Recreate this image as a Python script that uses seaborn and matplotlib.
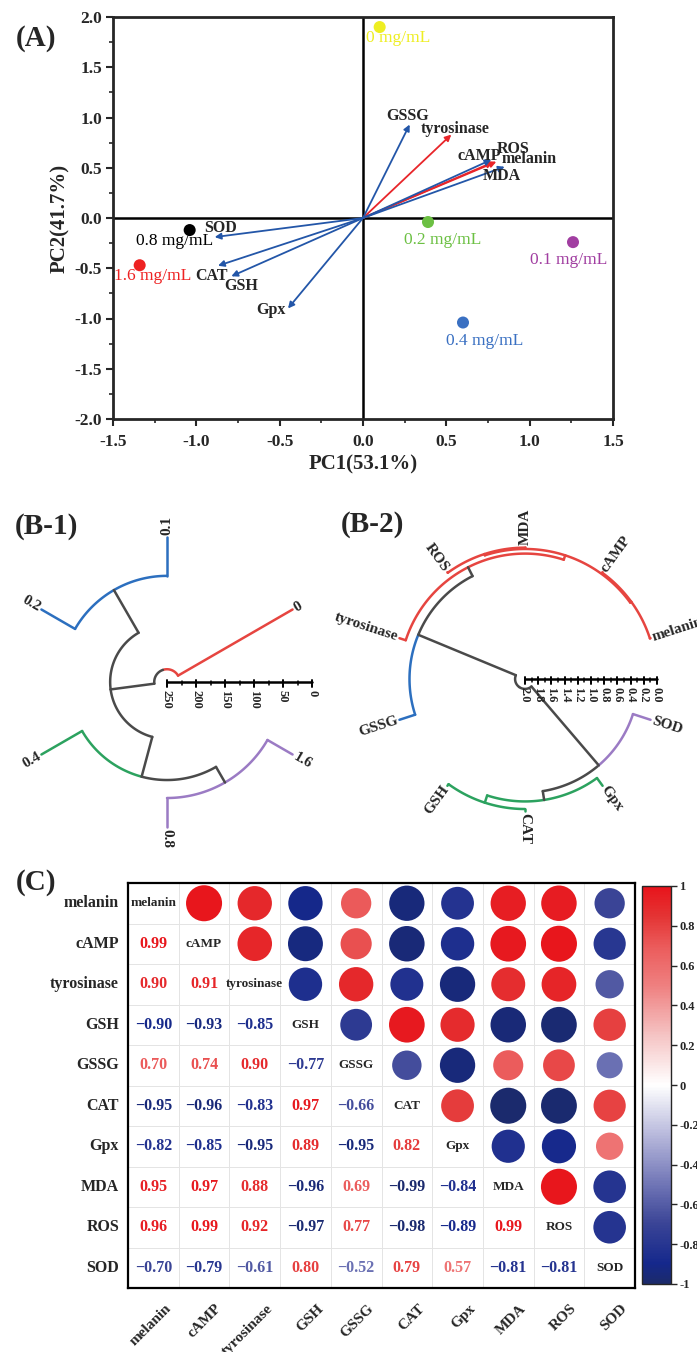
import numpy as np
import matplotlib
matplotlib.use("Agg")
import matplotlib.pyplot as plt
import matplotlib.transforms as mtransforms
from matplotlib.colors import LinearSegmentedColormap, ListedColormap
from matplotlib.ticker import MultipleLocator
import seaborn as sns

# ---------------- data ----------------
# (A) PCA scores of the treatment groups
groups = ["0 mg/mL", "0.1 mg/mL", "0.2 mg/mL", "0.4 mg/mL", "0.8 mg/mL", "1.6 mg/mL"]
pc1_scores = [0.10, 1.26, 0.39, 0.60, -1.04, -1.34]
pc2_scores = [1.90, -0.24, -0.04, -1.04, -0.12, -0.47]
group_colors = ["#eeee22", "#a13ea1", "#6cc043", "#3a70c2", "#000000", "#ee2222"]

# (A) loadings of the variables
variables = ["melanin", "cAMP", "tyrosinase", "GSH", "GSSG", "CAT", "Gpx", "MDA", "ROS", "SOD"]
load_pc1 = [0.80, 0.78, 0.53, -0.79, 0.28, -0.87, -0.45, 0.85, 0.77, -0.89]
load_pc2 = [0.56, 0.555, 0.83, -0.58, 0.93, -0.475, -0.90, 0.51, 0.58, -0.19]
arrow_colors = ["#e8252a", "#e8252a", "#e8252a", "#2356a8", "#2356a8",
                "#2356a8", "#2356a8", "#2356a8", "#2356a8", "#2356a8"]

# (B-1) clustering of the doses
b1_leaves = ["0", "0.1", "0.2", "0.4", "0.8", "1.6"]
b1_groups = [0, 1, 1, 2, 3, 3]
b1_merges = [("0.8", "1.6", 50), ("0.1", "0.2", 67), ("0.4", "m1", 81),
             ("m2", "m3", 152), ("0", "m4", 228)]

# (B-2) clustering of the variables
b2_leaves = ["melanin", "cAMP", "MDA", "ROS", "tyrosinase", "GSSG", "GSH", "CAT", "Gpx", "SOD"]
b2_groups = [0, 0, 0, 0, 0, 1, 2, 2, 2, 3]
b2_merges = [("melanin", "cAMP", 0.01), ("MDA", "ROS", 0.01), ("m1", "m2", 0.03),
             ("m3", "tyrosinase", 0.10), ("m4", "GSSG", 0.25), ("GSH", "CAT", 0.03),
             ("m6", "Gpx", 0.145), ("m7", "SOD", 0.28), ("m5", "m8", 1.85)]

# (C) correlation matrix, lower triangle
corr_lower = [
    [],
    [0.99],
    [0.90, 0.91],
    [-0.90, -0.93, -0.85],
    [0.70, 0.74, 0.90, -0.77],
    [-0.95, -0.96, -0.83, 0.97, -0.66],
    [-0.82, -0.85, -0.95, 0.89, -0.95, 0.82],
    [0.95, 0.97, 0.88, -0.96, 0.69, -0.99, -0.84],
    [0.96, 0.99, 0.92, -0.97, 0.77, -0.98, -0.89, 0.99],
    [-0.70, -0.79, -0.61, 0.80, -0.52, 0.79, 0.57, -0.81, -0.81],
]

# ---------------- style ----------------
sns.set_style("ticks")
plt.rcParams["font.family"] = ["Liberation Serif", "DejaVu Serif"]
plt.rcParams["axes.unicode_minus"] = False

W, H = 697, 1352
fig = plt.figure(figsize=(W / 100, H / 100), dpi=100)


def px_axes(left, top, right, bottom):
    return fig.add_axes([left / W, 1 - bottom / H, (right - left) / W, (bottom - top) / H])


# ================= (A) PCA biplot =================
ax = px_axes(113, 17, 613, 419)
ax.axhline(0, color="k", lw=1.8, zorder=1)
ax.axvline(0, color="k", lw=1.8, zorder=1)
for x, y, c in zip(load_pc1, load_pc2, arrow_colors):
    ax.annotate("", xy=(x, y), xytext=(0, 0),
                arrowprops=dict(arrowstyle="-|>", color=c, lw=1.3,
                                mutation_scale=9, shrinkA=0, shrinkB=0), zorder=3)
sns.scatterplot(x=pc1_scores, y=pc2_scores, hue=groups, palette=group_colors,
                s=75, edgecolor="none", legend=False, ax=ax, zorder=4)

# label placement (layout only)
group_label_xy = {"0 mg/mL": (0.21, 1.79), "0.1 mg/mL": (1.235, -0.42), "0.2 mg/mL": (0.475, -0.215),
                  "0.4 mg/mL": (0.73, -1.22), "0.8 mg/mL": (-1.13, -0.23), "1.6 mg/mL": (-1.26, -0.58)}
for g, c in zip(groups, group_colors):
    gx, gy = group_label_xy[g]
    ax.text(gx, gy, g, color=c, fontsize=12.5, ha="center", va="center")
var_label_xy = {"melanin": (0.995, 0.59), "cAMP": (0.70, 0.62), "tyrosinase": (0.555, 0.887),
                "GSH": (-0.73, -0.675), "GSSG": (0.27, 1.01), "CAT": (-0.91, -0.575),
                "Gpx": (-0.55, -0.92), "MDA": (0.83, 0.415), "ROS": (0.90, 0.69), "SOD": (-0.853, -0.10)}
for v in variables:
    vx, vy = var_label_xy[v]
    ax.text(vx, vy, v, fontsize=11.5, fontweight="bold", ha="center", va="center")

ax.set_xlim(-1.5, 1.5)
ax.set_ylim(-2, 2)
ax.set_xticks(np.arange(-1.5, 1.51, 0.5))
ax.set_yticks(np.arange(-2, 2.01, 0.5))
ax.xaxis.set_minor_locator(MultipleLocator(0.25))
ax.yaxis.set_minor_locator(MultipleLocator(0.25))
ax.set_xticklabels([f"{t:.1f}" for t in np.arange(-1.5, 1.51, 0.5)])
ax.set_yticklabels([f"{t:.1f}" for t in np.arange(-2, 2.01, 0.5)])
ax.tick_params(which="major", direction="out", length=5, width=1.5, labelsize=12.5, pad=3)
ax.tick_params(axis="x", which="major", pad=6)
ax.tick_params(which="minor", direction="out", length=3, width=1.2)
for lbl in ax.get_xticklabels() + ax.get_yticklabels():
    lbl.set_fontweight("bold")
for s in ax.spines.values():
    s.set_linewidth(2)
ax.set_xlabel("PC1(53.1%)", fontsize=15, fontweight="bold", labelpad=3)
ax.set_ylabel("PC2(41.7%)", fontsize=15, fontweight="bold", labelpad=3)

# ================= (B) circular dendrograms =================
tree_colors = ["#e64540", "#2c6fbf", "#2ca25f", "#9b7bc4"]
tree_gray = "#4a4a4a"


def circular_dendrogram(ax, leaves, grp, merges, Hmax, start, px_per_unit,
                        ticks, minor, tick_fmt):
    n = len(leaves)
    ang, rad, mem = {}, {}, {}
    for k, name in enumerate(leaves):
        ang[name] = start + k * 360 / n
        rad[name] = Hmax
        mem[name] = {grp[k]}
    for i, (a, b, h) in enumerate(merges, 1):
        node = f"m{i}"
        ang[node] = (ang[a] + ang[b]) / 2
        rad[node] = Hmax - h
        mem[node] = mem[a] | mem[b]
        for c in (a, b):
            if c in leaves:
                col = tree_colors[grp[leaves.index(c)]]
            elif len(mem[node]) == 1:
                col = tree_colors[next(iter(mem[node]))]
            else:
                col = tree_gray
            t = np.radians(ang[c])
            ax.plot([rad[c] * np.cos(t), rad[node] * np.cos(t)],
                    [rad[c] * np.sin(t), rad[node] * np.sin(t)],
                    color=col, lw=1.8, solid_capstyle="round")
            arc = np.radians(np.linspace(ang[c], ang[node], 80))
            ax.plot(rad[node] * np.cos(arc), rad[node] * np.sin(arc),
                    color=col, lw=1.8, solid_capstyle="round")
    # leaf labels
    pad = 2 / px_per_unit
    for name in leaves:
        a = ang[name] % 360
        t = np.radians(a)
        if 90 < a < 270:
            rot, ha = a - 180, "right"
        else:
            rot, ha = a, "left"
        ax.text((Hmax + pad) * np.cos(t), (Hmax + pad) * np.sin(t), name,
                rotation=rot, ha=ha, va="center", rotation_mode="anchor",
                fontsize=11, fontweight="bold")
    # height scale
    u = 1 / px_per_unit
    ax.plot([0, Hmax], [0, 0], color="k", lw=1.8)
    for v in ticks:
        ax.plot([Hmax - v] * 2, [2 * u, -5 * u], color="k", lw=1.4)
        ax.text(Hmax - v, -8 * u, tick_fmt(v), rotation=-90, ha="center", va="top",
                fontsize=9, fontweight="bold")
    for v in minor:
        ax.plot([Hmax - v] * 2, [1 * u, -3 * u], color="k", lw=1.1)
    ax.axis("off")


# B-1: centre at (167, 682) px, leaf radius 145 px
k1 = 145 / 250
ax_b1 = px_axes(0, 490, 345, 860)
ax_b1.set_xlim((0 - 167) / k1, (345 - 167) / k1)
ax_b1.set_ylim(-(860 - 682) / k1, (682 - 490) / k1)
circular_dendrogram(ax_b1, b1_leaves, b1_groups, b1_merges, 250, 30, k1,
                    np.arange(0, 251, 50), np.arange(25, 250, 50), lambda v: f"{v:g}")

# B-2: centre at (525, 679) px, leaf radius 132 px
k2 = 132 / 2.0
ax_b2 = px_axes(345, 490, 697, 860)
ax_b2.set_xlim((345 - 525) / k2, (697 - 525) / k2)
ax_b2.set_ylim(-(860 - 679) / k2, (679 - 490) / k2)
circular_dendrogram(ax_b2, b2_leaves, b2_groups, b2_merges, 2.0, 18, k2,
                    np.round(np.arange(0, 2.01, 0.2), 1), np.round(np.arange(0.1, 2.0, 0.2), 1),
                    lambda v: f"{v:.1f}")

# ================= (C) correlation plot =================
nv = len(variables)
corr = np.eye(nv)
for i, row in enumerate(corr_lower):
    for j, v in enumerate(row):
        corr[i, j] = corr[j, i] = v

corr_cmap = LinearSegmentedColormap.from_list("corr", [
    (0.0, "#1b2a6a"), (0.05, "#15288c"), (0.15, "#3a4496"), (0.25, "#7075b6"),
    (0.375, "#b8b9dc"), (0.5, "#ffffff"), (0.625, "#f5c4c4"), (0.75, "#ef8080"),
    (0.85, "#eb5b5b"), (0.925, "#e43434"), (1.0, "#e8141b")])

ax_c = px_axes(128, 883, 635, 1288)
cax = px_axes(642, 886, 671, 1284)
sns.heatmap(np.zeros((nv, nv)), ax=ax_c, cmap=ListedColormap(["white"]), cbar=False,
            linewidths=0.6, linecolor="#e4e4e4", xticklabels=variables, yticklabels=variables)

ii, jj = np.triu_indices(nv, 1)
vals = corr[ii, jj]
sc = ax_c.scatter(jj + 0.5, ii + 0.5, s=680 * np.abs(vals), c=vals, cmap=corr_cmap,
                  vmin=-1, vmax=1, edgecolors="none", zorder=3)
for i in range(nv):
    for j in range(i):
        v = corr[i, j]
        ax_c.text(j + 0.5, i + 0.5, f"{v:.2f}".replace("-", "\u2212"),
                  color=corr_cmap((v + 1) / 2), fontsize=11.5, fontweight="bold",
                  ha="center", va="center")
    ax_c.text(i + 0.5, i + 0.5, variables[i], fontsize=9.5, fontweight="bold",
              ha="center", va="center")

for s in ax_c.spines.values():
    s.set_visible(True)
    s.set_linewidth(1.6)
    s.set_color("k")
ax_c.tick_params(axis="both", length=0)
ax_c.tick_params(axis="y", pad=6.5)
ax_c.tick_params(axis="x", pad=10)
ax_c.set_yticklabels(variables, rotation=0, fontsize=11.5, fontweight="bold")
ax_c.set_xticklabels(variables, rotation=45, ha="right", va="top", rotation_mode="anchor",
                     fontsize=11, fontweight="bold")
shift = mtransforms.ScaledTranslation(8 / 72, 0, fig.dpi_scale_trans)
for lbl in ax_c.get_xticklabels():
    lbl.set_transform(lbl.get_transform() + shift)

cb = fig.colorbar(sc, cax=cax)
cticks = np.round(np.linspace(-1, 1, 11), 1) + 0.0
cb.set_ticks(cticks)
cb.set_ticklabels([f"{t:g}" for t in cticks])
cb.outline.set_linewidth(1.0)
cax.tick_params(length=4, width=1, labelsize=9, pad=2)
for lbl in cax.get_yticklabels():
    lbl.set_fontweight("bold")

# panel letters
for txt, x, y in [("(A)", 36, 38), ("(B-1)", 46, 527), ("(B-2)", 372, 525), ("(C)", 36, 882)]:
    fig.text(x / W, 1 - y / H, txt, fontsize=21, fontweight="bold", ha="center", va="center")

fig.savefig("out.png", dpi=100)
